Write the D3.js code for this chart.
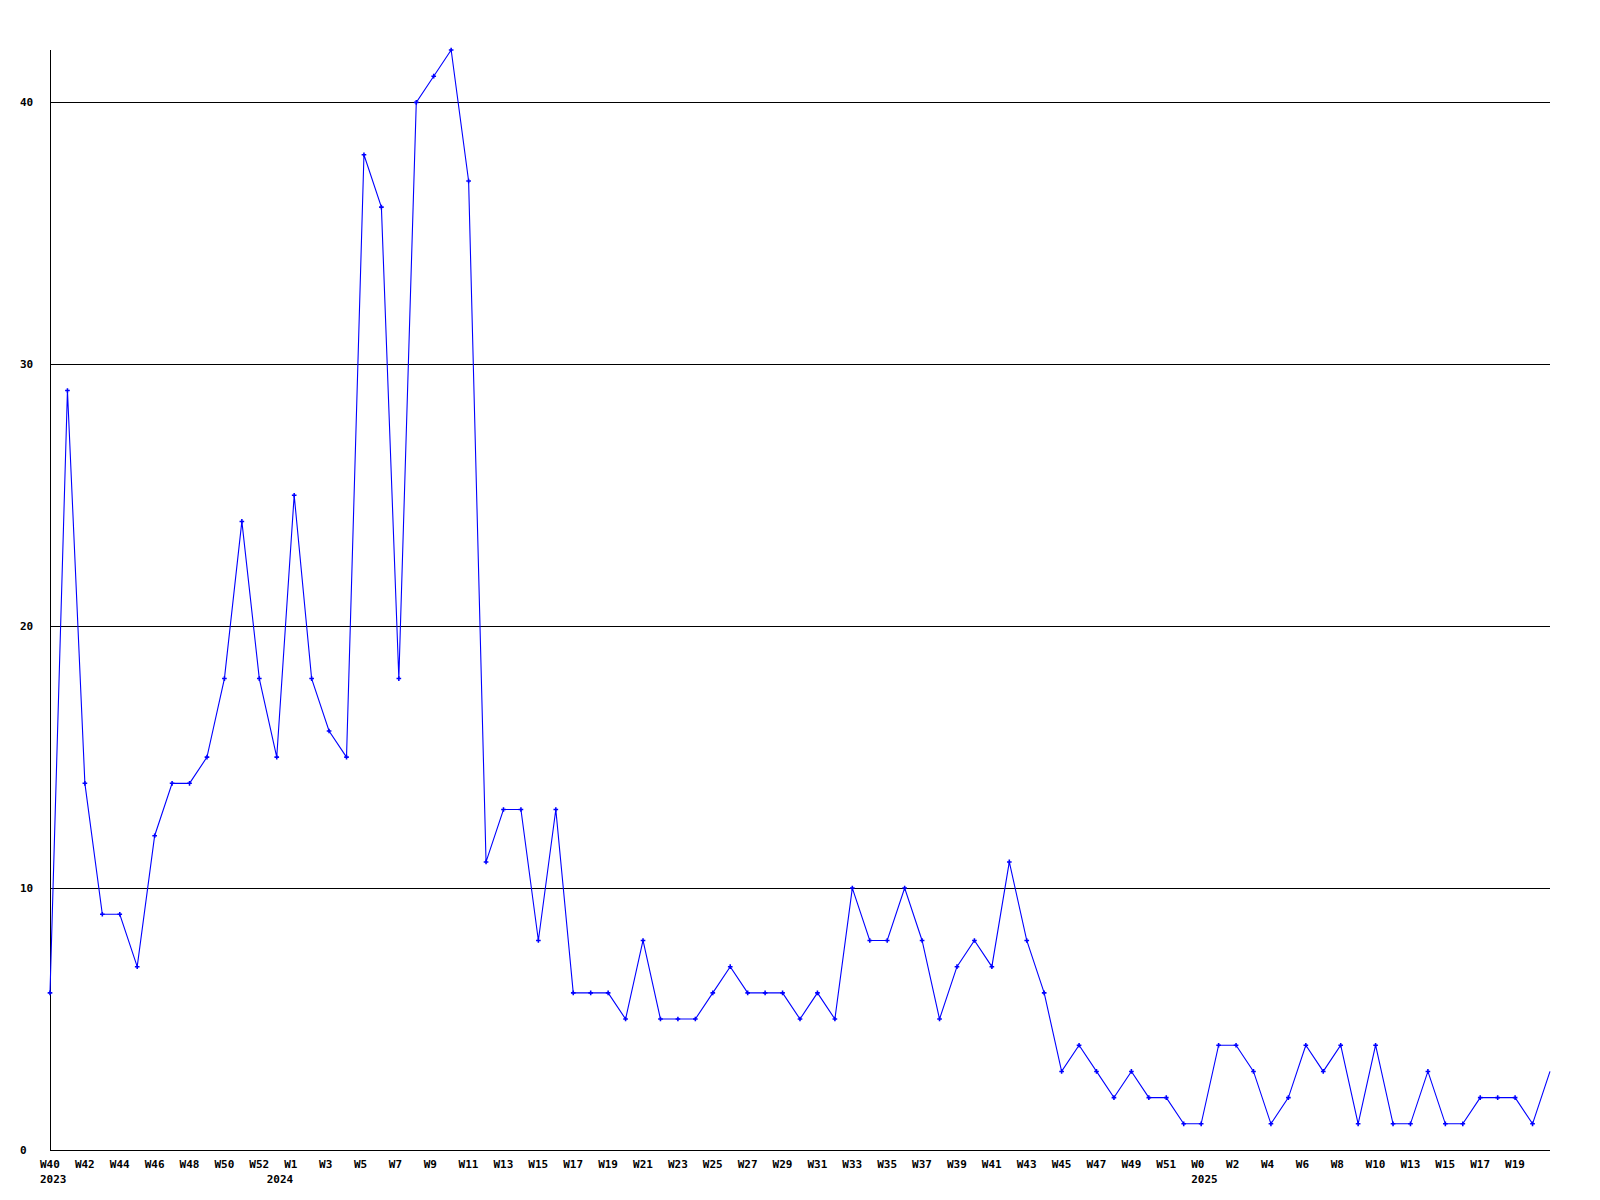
<!DOCTYPE html>
<html>
<head>
<meta charset="utf-8">
<script src="https://cdn.jsdelivr.net/npm/d3@7"></script>
<style>
  html, body { margin: 0; padding: 0; background: #fff; }
  svg { display: block; }
  text { font-family: "DejaVu Sans Mono", "Liberation Mono", monospace; font-weight: bold; font-size: 11px; fill: #000; }
</style>
</head>
<body>
<script>
const weeks = [
  "W40","W41","W42","W43","W44","W45","W46","W47","W48","W49","W50","W51","W52",
  "W0","W1","W2","W3","W4","W5","W6","W7","W8","W9","W10","W11","W12","W13","W14","W15","W16",
  "W17","W18","W19","W20","W21","W22","W23","W24","W25","W26","W27","W28","W29","W30","W31",
  "W32","W33","W34","W35","W36","W37","W38","W39","W40","W41","W42","W43","W44","W45","W46",
  "W47","W48","W49","W50","W51","W52",
  "W0","W1","W2","W3","W4","W5","W6","W7","W8","W9","W10","W11","W13","W14","W15","W16","W17",
  "W18","W19","W20","W21"
];
const yearLabels = [
  { index: 0, label: "2023" },
  { index: 13, label: "2024" },
  { index: 66, label: "2025" }
];
const values = [
  6, 29, 14, 9, 9, 7, 12, 14, 14, 15, 18, 24, 18,
  15, 25, 18, 16, 15, 38, 36, 18, 40, 41, 42, 37, 11, 13, 13, 8, 13,
  6, 6, 6, 5, 8, 5, 5, 5, 6, 7, 6, 6, 6, 5, 6,
  5, 10, 8, 8, 10, 8, 5, 7, 8, 7, 11, 8, 6, 3, 4,
  3, 2, 3, 2, 2, 1,
  1, 4, 4, 3, 1, 2, 4, 3, 4, 1, 4, 1, 1, 3, 1, 1, 2,
  2, 2, 1, 3
];
const yTicks = [0, 10, 20, 30, 40];
const yMax = 42;

(function () {
  const W = 1600, H = 1200;
  const mLeft = 50, mRight = 1550, mTop = 50, mBottom = 1150;
  const last = values.length - 1;

  const svg = d3.select("body").append("svg").attr("width", W).attr("height", H);

  const x = d3.scaleLinear().domain([0, last]).range([mLeft, mRight]);
  const y = d3.scaleLinear().domain([0, yMax]).range([mBottom, mTop]);

  // gridlines
  svg.append("g").selectAll("line")
    .data(yTicks.filter(d => d > 0))
    .join("line")
    .attr("x1", mLeft).attr("x2", mRight)
    .attr("y1", d => Math.round(y(d)) + 0.5).attr("y2", d => Math.round(y(d)) + 0.5)
    .attr("stroke", "#000").attr("stroke-width", 1).attr("shape-rendering", "crispEdges");

  // axis lines
  svg.append("line").attr("x1", mLeft + 0.5).attr("x2", mLeft + 0.5).attr("y1", mTop).attr("y2", mBottom)
    .attr("stroke", "#000").attr("shape-rendering", "crispEdges");
  svg.append("line").attr("x1", mLeft).attr("x2", mRight).attr("y1", mBottom + 0.5).attr("y2", mBottom + 0.5)
    .attr("stroke", "#000").attr("shape-rendering", "crispEdges");

  // y labels
  svg.append("g").selectAll("text")
    .data(yTicks)
    .join("text")
    .attr("x", 20)
    .attr("y", d => y(d) + 4)
    .text(d => d);

  // x labels (every other point, last point unlabeled)
  svg.append("g").selectAll("text")
    .data(weeks.map((w, i) => ({ w, i })).filter(d => d.i % 2 === 0 && d.i < last))
    .join("text")
    .attr("x", d => x(d.i) - 10)
    .attr("y", 1168)
    .text(d => d.w);

  // year labels
  svg.append("g").selectAll("text")
    .data(yearLabels)
    .join("text")
    .attr("x", d => x(d.index) - 10)
    .attr("y", 1183)
    .text(d => d.label);

  // line
  const line = d3.line().x((d, i) => x(i)).y(d => y(d));
  svg.append("path")
    .datum(values)
    .attr("d", line)
    .attr("fill", "none")
    .attr("stroke", "#0000ff")
    .attr("stroke-width", 1.1);

  // markers (all but last)
  const sym = d3.symbol().type(d3.symbolCross).size(12);
  svg.append("g").selectAll("path")
    .data(values.slice(0, last))
    .join("path")
    .attr("transform", (d, i) => `translate(${x(i)},${y(d)})`)
    .attr("d", sym)
    .attr("fill", "#0000ff");
})();
</script>
</body>
</html>
